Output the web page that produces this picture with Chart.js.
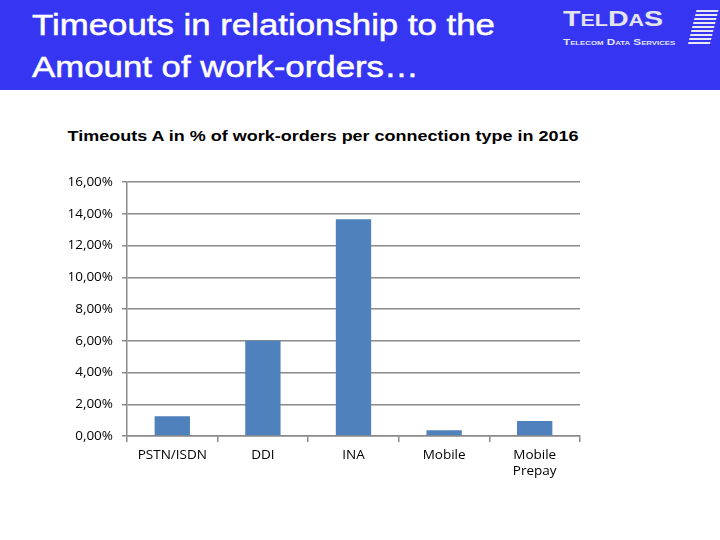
<!DOCTYPE html>
<html>
<head>
<meta charset="utf-8">
<script src="https://cdn.jsdelivr.net/npm/chart.js@4"></script>
<style>
  body { margin: 0; width: 720px; height: 540px; background: #fff; position: relative; overflow: hidden; font-family: "Liberation Sans", Arial, sans-serif; }
  #header { position: absolute; left: 0; top: 0; width: 720px; height: 90px; background: #3636f2; }
  #title { position: absolute; left: 32px; top: 4px; color: #fff; font-size: 30px; line-height: 41.5px; white-space: nowrap; -webkit-text-stroke: 0.5px #fff; transform: scaleX(1.16); transform-origin: 0 0; }
  #logo1 { position: absolute; left: 563px; top: 6px; color: #e4e4ee; font-weight: bold; font-size: 22px; white-space: nowrap; transform: scaleX(1.3); transform-origin: 0 0; }
  #logo1 small { font-size: 16.5px; }
  #logo2 { position: absolute; left: 563px; top: 37px; color: #e4e4ee; font-weight: bold; font-size: 9px; font-variant: small-caps; white-space: nowrap; transform: scaleX(1.3); transform-origin: 0 0; }
  #stripes { position: absolute; left: 692px; top: 10px; width: 22px; transform: skewX(-14deg); }
  #stripes div { height: 2px; background: #e8e8f0; margin-bottom: 2px; }
  #ctitle { position: absolute; left: 0; width: 646px; top: 127px; text-align: center; font-weight: bold; font-size: 15.5px; color: #000; white-space: nowrap; transform: scaleX(1.16); transform-origin: 323px 0; }
  #wrap { position: absolute; left: 0; top: 165px; width: 720px; height: 335px; }
</style>
</head>
<body>
<div id="header">
  <div id="title">Timeouts in relationship to the<br>Amount of work-orders…</div>
  <div id="logo1">T<small>EL</small>D<small>A</small>S</div>
  <div id="logo2">Telecom Data Services</div>
  <div id="stripes"><div></div><div></div><div></div><div></div><div></div><div></div><div></div><div></div><div></div></div>
</div>
<div id="ctitle">Timeouts A in % of work-orders per connection type in 2016</div>
<div id="wrap"><canvas id="c"></canvas></div>
<script>
// connection types and their timeout share (percent of work-orders)
var categories = ['PSTN/ISDN', 'DDI', 'INA', 'Mobile', ['Mobile', 'Prepay']];
var timeoutsPct = [1.24, 6.01, 13.66, 0.36, 0.94];
var yMax = 16;
var yStep = 2;

var gridColor = '#8a8a8a';
var tickFont = { family: '"Open Sans", "DejaVu Sans", sans-serif', size: 13.5 };

new Chart(document.getElementById('c'), {
  type: 'bar',
  data: {
    labels: categories,
    datasets: [{
      data: timeoutsPct,
      backgroundColor: '#4f81bd',
      barPercentage: 0.39,
      categoryPercentage: 1.0
    }]
  },
  options: {
    responsive: true,
    maintainAspectRatio: false,
    animation: false,
    layout: { padding: { left: 0, right: 140, top: 6, bottom: 0 } },
    plugins: { legend: { display: false }, tooltip: { enabled: false } },
    scales: {
      x: {
        grid: { offset: true, drawOnChartArea: false, drawTicks: true, tickLength: 6, color: gridColor, lineWidth: 1.5 },
        border: { color: gridColor, width: 1.5 },
        ticks: { color: '#000', font: tickFont, padding: 5, maxRotation: 0 },
        afterFit: function(s) { s.height = 64; }
      },
      y: {
        min: 0,
        max: yMax,
        ticks: {
          stepSize: yStep,
          color: '#000',
          font: tickFont,
          padding: 9,
          callback: function(v) { return v.toFixed(2).replace('.', ',') + '%'; }
        },
        grid: { color: gridColor, lineWidth: 1.5, tickLength: 5 },
        border: { color: gridColor, width: 1.5 },
        afterFit: function(s) { s.width = 127; }
      }
    }
  }
});
</script>
</body>
</html>
